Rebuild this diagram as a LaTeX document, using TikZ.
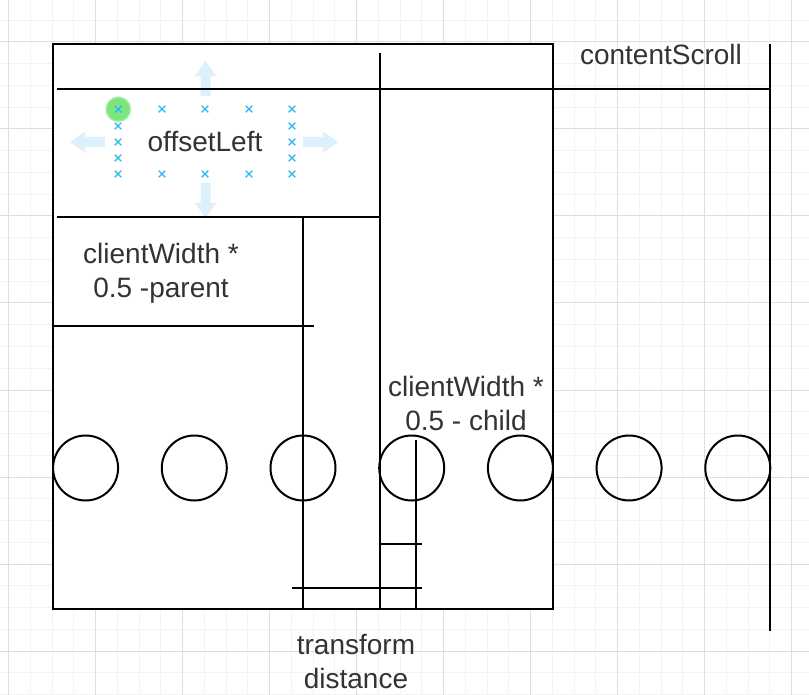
\documentclass[tikz,border=0pt]{standalone}
\usepackage{fontspec}
\setmainfont{Liberation Sans}

\definecolor{gridminor}{HTML}{F3F3F3}
\definecolor{gridmajor}{HTML}{DEDEDE}
\definecolor{labeltext}{HTML}{333333}
\definecolor{handleblue}{HTML}{29B6F2}
\definecolor{arrowblue}{HTML}{DCF1FC}
\definecolor{anchorgreen}{HTML}{7EE57E}
\definecolor{anchoredge}{HTML}{9AEE9A}

\tikzset{
  stroke/.style={line width=2pt, black},
  labeltxt/.style={text=labeltext, font=\fontsize{28}{34}\selectfont, align=center, inner sep=0pt},
  xhandle/.pic={\draw[handleblue, line width=1.3pt] (-3.3,-3.3) -- (3.3,3.3) (-3.3,3.3) -- (3.3,-3.3);},
  movearrow/.pic={\fill[arrowblue] (0,-5) -- (20,-5) -- (20,-10.5) -- (35,0) -- (20,10.5) -- (20,5) -- (0,5) -- cycle;}
}

\begin{document}
\begin{tikzpicture}[x=1pt, y=-1pt]
    \useasboundingbox (0,0) rectangle (809,695);

    % background grid
    \foreach \k in {-1,...,37} {
        \draw[gridminor, line width=1pt] ({8.7+21.75*\k},0) -- ({8.7+21.75*\k},695);
    }
    \foreach \k in {-2,...,30} {
        \draw[gridminor, line width=1pt] (0,{42+21.75*\k}) -- (809,{42+21.75*\k});
    }
    \foreach \k in {0,...,9} {
        \draw[gridmajor, line width=1pt] ({8.7+87*\k},0) -- ({8.7+87*\k},695);
    }
    \foreach \k in {0,...,7} {
        \draw[gridmajor, line width=1pt] (0,{42+87*\k}) -- (809,{42+87*\k});
    }

    % outer box
    \draw[stroke, fill=white] (53,44) rectangle (553,609);

    % move arrows of the selected label
    \pic at (205.5,96) [rotate=90] {movearrow};
    \pic at (205.5,183) [rotate=-90] {movearrow};
    \pic at (105,142) [rotate=180] {movearrow};
    \pic at (303,142) {movearrow};

    % lines
    \draw[stroke] (57,89) -- (770,89);
    \draw[stroke] (770,44) -- (770,631);
    \draw[stroke] (380,53) -- (380,609);
    \draw[stroke] (57,217) -- (380,217);
    \draw[stroke] (303,217) -- (303,609);
    \draw[stroke] (53,326) -- (314,326);
    \draw[stroke] (416,440) -- (416,609);
    \draw[stroke] (380,544) -- (422,544);
    \draw[stroke] (292,588) -- (422,588);

    % circles
    \foreach \i in {0,...,6} {
        \draw[stroke] ({85.6+108.7*\i},468) circle[radius=32.5pt];
    }

    % labels
    \node[labeltxt] (scroll) at (661,54) {contentScroll};
    \node[labeltxt] (offset) at (205,142) {offsetLeft};
    \node[labeltxt] (parent) at (161,273) {clientWidth *\\0.5 -parent};
    \node[labeltxt] (child) at (466,403) {clientWidth *\\0.5 - child};
    \node[labeltxt] (transform) at (356,662) {transform\\distance};

    % selection handles
    \foreach \hx in {162,205,249} {
        \pic at (\hx,109) {xhandle};
        \pic at (\hx,174) {xhandle};
    }
    \foreach \hy in {109,126,142,158,174} {
        \pic at (118,\hy) {xhandle};
        \pic at (292,\hy) {xhandle};
    }
    \fill[anchorgreen, draw=anchoredge, line width=1.5pt] (118.3,109.3) circle[radius=12pt];
    \pic at (118.3,109.3) {xhandle};
\end{tikzpicture}
\end{document}
